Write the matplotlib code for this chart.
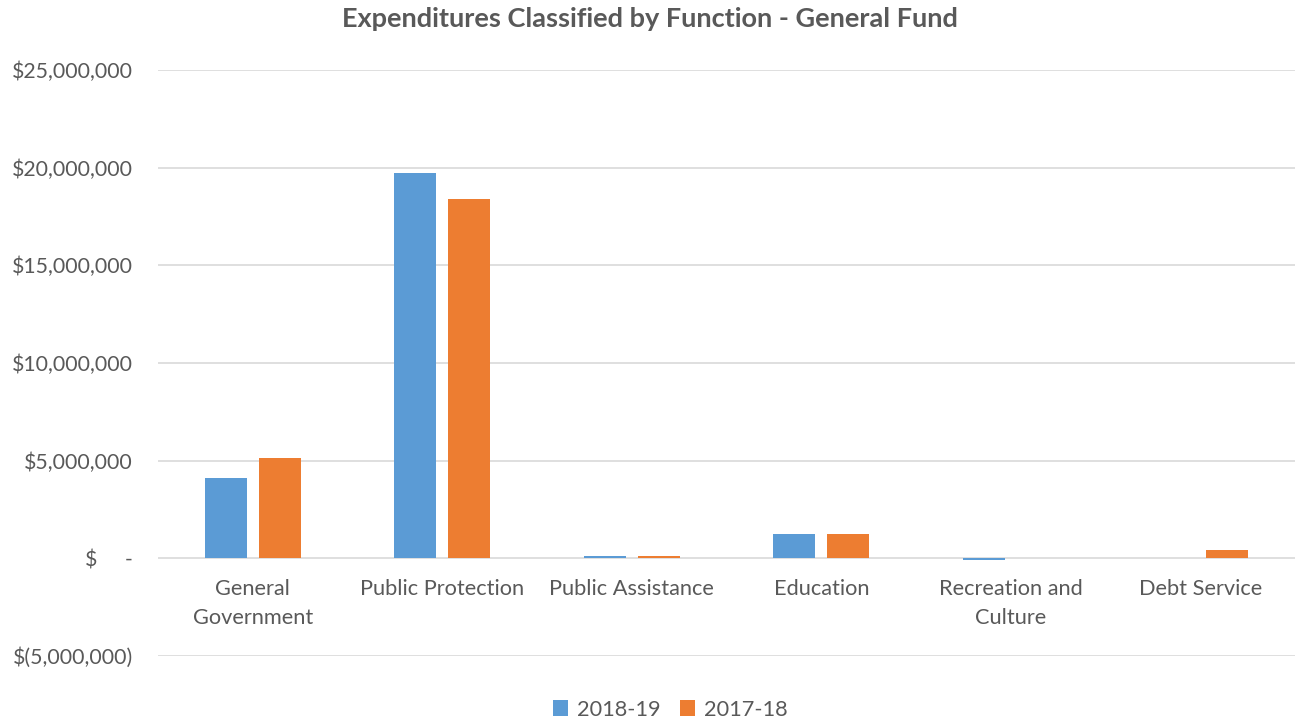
import numpy as np
import matplotlib.pyplot as plt
from matplotlib.ticker import FuncFormatter

plt.rcParams['font.family'] = ['Lato', 'DejaVu Sans']

categories = ['General\nGovernment', 'Public Protection', 'Public Assistance',
              'Education', 'Recreation and\nCulture', 'Debt Service']
fy_2018_19 = [4110000, 19730000, 120000, 1260000, -100000, 0]
fy_2017_18 = [5130000, 18400000, 110000, 1260000, 30000, 450000]

grey = '#595959'

def money(v, pos):
    if v == 0:
        return '$     -'
    if v < 0:
        return '$({:,.0f})'.format(-v)
    return '${:,.0f}'.format(v)

fig = plt.figure(figsize=(12.99, 7.19), dpi=100)
ax = fig.add_axes([0.1216, 0.0876, 0.8754, 0.815])

x = np.arange(len(categories))
w = 0.222
ax.bar(x - 0.143, fy_2018_19, width=w, color='#5B9BD5', label='2018-19', zorder=3)
ax.bar(x + 0.143, fy_2017_18, width=w, color='#ED7D31', label='2017-18', zorder=3)

ax.set_xlim(-0.5, len(categories) - 0.5)
ax.set_ylim(-5000000, 25000000)
ax.set_yticks(np.arange(-5000000, 25000001, 5000000))
ax.yaxis.set_major_formatter(FuncFormatter(money))
ax.grid(axis='y', color='#d9d9d9', linewidth=1.2, zorder=0)
for s in ax.spines.values():
    s.set_visible(False)
ax.tick_params(length=0, labelsize=15.3, colors=grey)
ax.tick_params(axis='y', pad=18)

# category labels sit just under the zero line
ax.set_xticks(x)
ax.set_xticklabels([])
for i, c in enumerate(categories):
    ax.text(i, -1050000, c, ha='center', va='top', fontsize=15.7, color=grey,
            linespacing=1.6)

fig.suptitle('Expenditures Classified by Function - General Fund', fontsize=19.5,
             fontweight='bold', color=grey, y=0.99)
fig.legend(loc='lower center', ncol=2, frameon=False, fontsize=15.7,
           labelcolor=grey, handlelength=0.7, handleheight=0.7,
           columnspacing=0.9, handletextpad=0.4, bbox_to_anchor=(0.516, -0.028))

plt.savefig('out.png', dpi=100)
